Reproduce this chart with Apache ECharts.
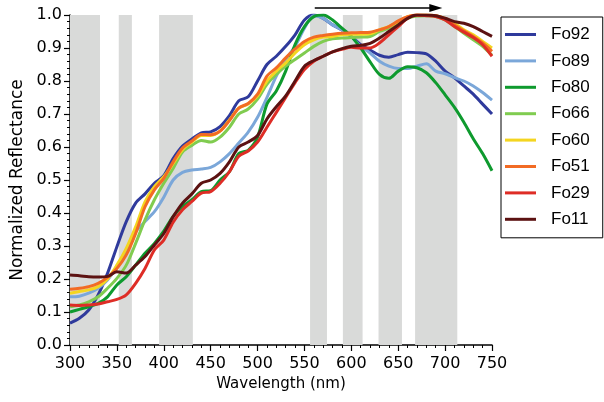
<!DOCTYPE html>
<html>
<head>
<meta charset="UTF-8">
<title>Normalized Reflectance</title>
<script src="https://cdn.jsdelivr.net/npm/echarts@6/dist/echarts.min.js"></script>
<style>
  html, body { margin: 0; padding: 0; background: #fff; }
  #chart { width: 604px; height: 402px; }
</style>
</head>
<body>
<div id="chart"></div>
<script>
// wavelengths (nm), every 10 nm
const wavelengths = [300,310,320,330,340,350,360,370,380,390,400,410,420,430,440,450,460,470,480,490,500,510,520,530,540,550,560,570,580,590,600,610,620,630,640,650,660,670,680,690,700,710,720,730,740,750];

const fo92 = [0.066,0.081,0.106,0.152,0.217,0.298,0.374,0.430,0.458,0.490,0.513,0.565,0.603,0.624,0.643,0.646,0.662,0.695,0.740,0.752,0.800,0.850,0.875,0.905,0.940,0.985,1.000,0.990,0.970,0.955,0.935,0.910,0.894,0.878,0.872,0.880,0.887,0.886,0.882,0.860,0.830,0.810,0.785,0.760,0.730,0.700];
const fo89 = [0.146,0.148,0.157,0.172,0.197,0.237,0.288,0.343,0.374,0.404,0.448,0.500,0.523,0.530,0.533,0.538,0.555,0.580,0.612,0.645,0.690,0.750,0.815,0.865,0.905,0.960,0.998,0.990,0.970,0.955,0.935,0.905,0.885,0.860,0.845,0.838,0.838,0.845,0.852,0.830,0.822,0.810,0.800,0.785,0.765,0.742];
const fo80 = [0.100,0.108,0.116,0.126,0.146,0.182,0.207,0.242,0.278,0.308,0.345,0.390,0.420,0.440,0.465,0.468,0.500,0.525,0.580,0.590,0.630,0.730,0.770,0.830,0.910,0.965,0.995,1.000,0.985,0.960,0.935,0.900,0.858,0.820,0.808,0.830,0.843,0.840,0.825,0.795,0.758,0.720,0.675,0.625,0.580,0.528];
const fo66 = [0.116,0.121,0.131,0.146,0.172,0.202,0.242,0.308,0.379,0.440,0.490,0.535,0.585,0.605,0.620,0.615,0.630,0.660,0.700,0.715,0.745,0.790,0.820,0.845,0.865,0.885,0.905,0.920,0.928,0.930,0.932,0.933,0.935,0.950,0.960,0.975,0.990,0.997,0.998,0.995,0.985,0.965,0.945,0.925,0.905,0.878];
const fo60 = [0.157,0.162,0.167,0.177,0.200,0.242,0.293,0.358,0.434,0.480,0.510,0.550,0.592,0.615,0.635,0.635,0.648,0.682,0.718,0.730,0.755,0.800,0.830,0.855,0.885,0.910,0.925,0.933,0.935,0.940,0.942,0.942,0.943,0.955,0.965,0.980,0.995,1.000,1.000,0.998,0.990,0.975,0.955,0.940,0.920,0.900];
const fo51 = [0.169,0.172,0.177,0.187,0.205,0.232,0.273,0.338,0.419,0.470,0.505,0.555,0.597,0.618,0.638,0.637,0.648,0.680,0.718,0.732,0.760,0.815,0.840,0.870,0.897,0.920,0.933,0.938,0.942,0.945,0.946,0.947,0.948,0.955,0.965,0.982,0.995,1.000,1.000,0.998,0.988,0.970,0.952,0.935,0.915,0.890];
const fo29 = [0.121,0.120,0.121,0.124,0.131,0.138,0.152,0.187,0.232,0.288,0.318,0.372,0.410,0.435,0.460,0.465,0.490,0.525,0.572,0.588,0.615,0.660,0.705,0.750,0.795,0.835,0.860,0.875,0.888,0.896,0.902,0.900,0.900,0.915,0.940,0.965,0.990,1.000,0.998,0.995,0.985,0.965,0.948,0.932,0.910,0.875];
const fo11 = [0.212,0.210,0.207,0.206,0.208,0.222,0.218,0.242,0.268,0.303,0.338,0.389,0.430,0.458,0.490,0.500,0.520,0.555,0.600,0.615,0.635,0.685,0.722,0.755,0.800,0.845,0.862,0.875,0.888,0.898,0.905,0.908,0.914,0.930,0.950,0.970,0.990,1.000,1.000,0.998,0.990,0.980,0.975,0.965,0.950,0.935];

const seriesNames = ['Fo92','Fo89','Fo80','Fo66','Fo60','Fo51','Fo29','Fo11'];
const seriesValues = [fo92, fo89, fo80, fo66, fo60, fo51, fo29, fo11];
const seriesColors = ['#2f3a9c','#7ba7d9','#0e9a2e','#80cc50','#f4d520','#f26b24','#de2d26','#5c1212'];

// shaded wavelength bands (nm)
const bands = [[300,332],[352,366],[395,431],[556,574],[591,612],[629,654],[668,713]];
// arrow above the plot (nm)
const arrowRange = [561, 697];

const xTicks = [300,350,400,450,500,550,600,650,700,750];
const yTicks = [0,0.1,0.2,0.3,0.4,0.5,0.6,0.7,0.8,0.9,1.0];

const chart = echarts.init(document.getElementById('chart'));
const font = 'Liberation Sans, Arial, Helvetica, sans-serif';
const wideFont = 'DejaVu Sans, Verdana, sans-serif';

const series = seriesNames.map((name, i) => ({
  name: name,
  type: 'line',
  data: wavelengths.map((w, j) => [w, seriesValues[i][j]]),
  showSymbol: false,
  smooth: 0.3,
  lineStyle: { width: 3, color: seriesColors[i] },
  itemStyle: { color: seriesColors[i] },
  z: 3
}));

series[0].markArea = {
  silent: true,
  itemStyle: { color: '#d9dad9' },
  data: bands.map(b => [{ xAxis: b[0], yAxis: 0 }, { xAxis: b[1], yAxis: 1 }])
};

chart.setOption({
  animation: false,
  textStyle: { fontFamily: font },
  grid: { left: 70, right: 112, top: 15, bottom: 57 },
  legend: {
    orient: 'vertical',
    left: 501,
    top: 17,
    padding: [9, 13, 10, 4],
    itemGap: 9.4,
    itemWidth: 31,
    itemHeight: 3,
    icon: 'rect',
    borderColor: '#000',
    borderWidth: 1,
    textStyle: { fontSize: 17, lineHeight: 17, color: '#000', fontFamily: font, padding: [0, 0, 0, 10] },
    data: seriesNames
  },
  xAxis: {
    type: 'value',
    min: xTicks[0],
    max: xTicks[xTicks.length - 1],
    interval: 50,
    name: 'Wavelength (nm)',
    nameLocation: 'middle',
    nameGap: 32,
    nameTextStyle: { fontSize: 15, color: '#000', fontFamily: wideFont },
    axisLine: { lineStyle: { color: '#000', width: 1.5 } },
    axisTick: { length: 6, lineStyle: { color: '#000', width: 1.2 } },
    minorTick: { show: true, splitNumber: 5, length: 3, lineStyle: { color: '#000', width: 1 } },
    axisLabel: { fontSize: 16, color: '#000', margin: 11, fontFamily: wideFont },
    splitLine: { show: false }
  },
  yAxis: {
    type: 'value',
    min: yTicks[0],
    max: yTicks[yTicks.length - 1],
    interval: 0.1,
    name: 'Normalized Reflectance',
    nameLocation: 'middle',
    nameGap: 43,
    nameTextStyle: { fontSize: 17, color: '#000', fontFamily: wideFont },
    axisLine: { show: true, lineStyle: { color: '#000', width: 1.5 } },
    axisTick: { show: true, length: 6, lineStyle: { color: '#000', width: 1.2 } },
    minorTick: { show: true, splitNumber: 5, length: 3, lineStyle: { color: '#000', width: 1 } },
    axisLabel: { fontSize: 16, color: '#000', margin: 8, fontFamily: wideFont, formatter: v => v.toFixed(1) },
    splitLine: { show: false }
  },
  series: series
});

// arrow drawn above the plotting area
const p0 = chart.convertToPixel({ xAxisIndex: 0, yAxisIndex: 0 }, [arrowRange[0], 1]);
const p1 = chart.convertToPixel({ xAxisIndex: 0, yAxisIndex: 0 }, [arrowRange[1], 1]);
const ay = p0[1] - 7;
chart.setOption({
  graphic: [
    { type: 'line', shape: { x1: p0[0], y1: ay, x2: p1[0] - 10, y2: ay }, style: { stroke: '#000', lineWidth: 1.5 } },
    { type: 'polygon', shape: { points: [[p1[0], ay], [p1[0] - 13, ay - 4], [p1[0] - 13, ay + 4]] }, style: { fill: '#000' } }
  ]
});
</script>
</body>
</html>
